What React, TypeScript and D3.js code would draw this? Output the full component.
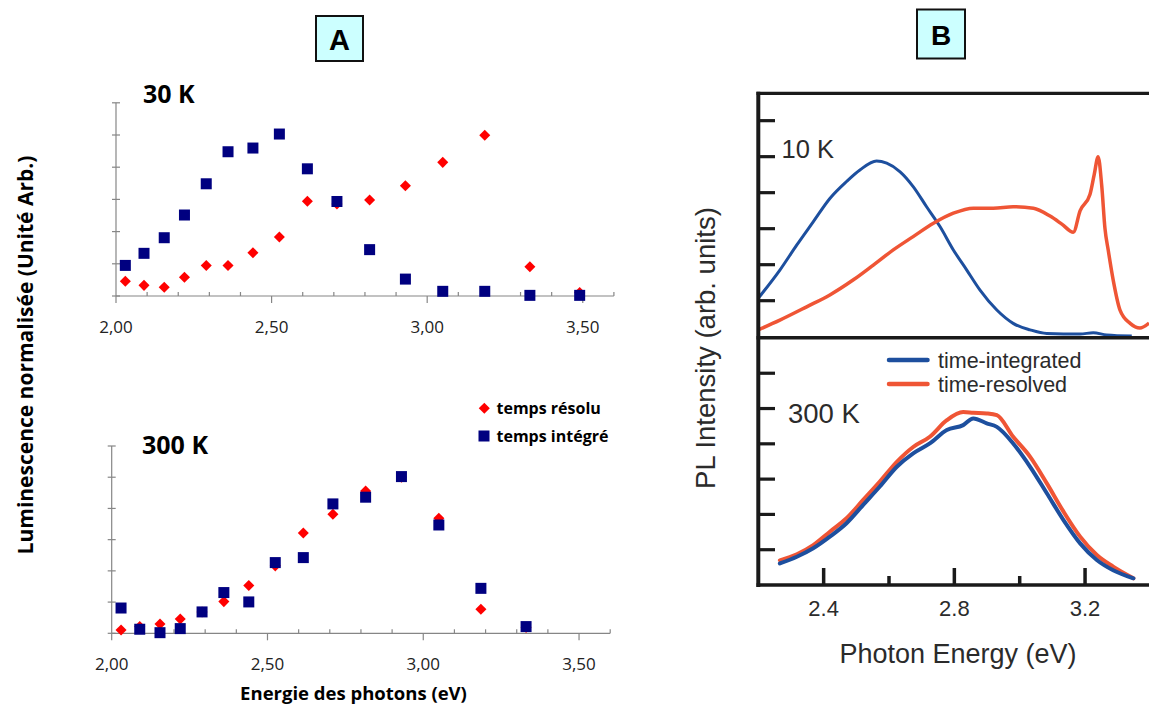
import React from 'react';
import * as d3 from 'd3';

// ---------- Panel A data (normalised luminescence) ----------
const energyA = [2.03, 2.09, 2.155, 2.22, 2.29, 2.36, 2.44, 2.525, 2.615, 2.71, 2.815, 2.93, 3.05, 3.185, 3.33, 3.49];
const k30Resolved = [0.091, 0.066, 0.054, 0.116, 0.19, 0.19, 0.269, 0.366, 0.588, 0.571, 0.596, 0.685, 0.83, 0.999, 0.182, 0.021];
const k30Integrated = [0.19, 0.265, 0.362, 0.503, 0.697, 0.896, 0.919, 1.006, 0.79, 0.587, 0.288, 0.105, 0.029, 0.029, 0.004, 0.004];
const k300Resolved = [0.021, 0.043, 0.06, 0.092, 0.137, 0.203, 0.306, 0.432, 0.643, 0.763, 0.912, 1.0, 0.737, 0.154, 0.038];
const k300Integrated = [0.162, 0.026, 0.004, 0.03, 0.137, 0.261, 0.201, 0.453, 0.485, 0.829, 0.872, 1.004, 0.694, 0.288, 0.043];
const xTicksA = [2.0, 2.5, 3.0, 3.5];
const xMinorA = [2.1, 2.2, 2.3, 2.4, 2.6, 2.7, 2.8, 2.9, 3.1, 3.2, 3.3, 3.4, 3.6];
const yTicksA = [0, 0.2, 0.4, 0.6, 0.8, 1.0, 1.2];

// ---------- Panel B data (PL spectra) ----------
const e10Integrated = [2.2, 2.266, 2.318, 2.368, 2.419, 2.47, 2.511, 2.562, 2.593, 2.634, 2.674, 2.715, 2.756, 2.797, 2.838, 2.878, 2.93, 2.98, 3.032, 3.083, 3.185, 3.225, 3.266, 3.343];
const i10Integrated = [1.07, 1.85, 2.55, 3.19, 3.84, 4.31, 4.63, 4.88, 4.82, 4.58, 4.17, 3.61, 3.06, 2.41, 1.85, 1.3, 0.74, 0.37, 0.19, 0.09, 0.075, 0.11, 0.05, 0.02];
const e10Resolved = [2.2, 2.266, 2.348, 2.419, 2.491, 2.552, 2.613, 2.674, 2.736, 2.797, 2.858, 2.919, 2.98, 3.042, 3.093, 3.13, 3.164, 3.185, 3.215, 3.228, 3.24, 3.251, 3.261, 3.271, 3.286, 3.307, 3.338, 3.368, 3.396];
const i10Resolved = [0.19, 0.46, 0.83, 1.16, 1.58, 1.99, 2.41, 2.78, 3.15, 3.43, 3.57, 3.57, 3.61, 3.57, 3.35, 3.12, 2.9, 3.5, 3.95, 4.5, 5.0, 4.2, 3.0, 2.4, 1.58, 0.74, 0.37, 0.24, 0.38];
const e300 = [2.266, 2.318, 2.368, 2.419, 2.47, 2.521, 2.572, 2.624, 2.674, 2.725, 2.777, 2.827, 2.858, 2.899, 2.93, 2.98, 3.032, 3.083, 3.134, 3.185, 3.236, 3.286, 3.348];
const i300Integrated = [0.61, 0.8, 1.04, 1.37, 1.75, 2.27, 2.79, 3.35, 3.73, 4.01, 4.39, 4.53, 4.72, 4.58, 4.48, 4.01, 3.35, 2.6, 1.84, 1.18, 0.71, 0.42, 0.19];
const i300Resolved = [0.7, 0.87, 1.13, 1.51, 1.89, 2.41, 2.93, 3.49, 3.91, 4.2, 4.67, 4.9, 4.88, 4.86, 4.81, 4.2, 3.63, 2.88, 2.08, 1.37, 0.85, 0.52, 0.19];
const xTicksB = [2.4, 2.8, 3.2];
const xMinorB = [2.6, 3.0];
const yTicksB = [1, 2, 3, 4, 5, 6];

const NAVY = '#000080';
const RED = '#ff0000';
const BLUE_B = '#1d4f9e';
const RED_B = '#ef5535';
const AXIS_A = '#868686';
const DARK = '#2b2b2b';

type PanelProps = { x0: number; x1: number; y0: number; y1: number; title: string; titleX: number; titleY: number; resolved: number[]; integrated: number[] };

function PanelA({ x0, x1, y0, y1, title, titleX, titleY, resolved, integrated }: PanelProps) {
  const x = d3.scaleLinear().domain([2, 3.6]).range([x0, x1]);
  const y = d3.scaleLinear().domain([0, 1.2]).range([y0, y1]);
  const diamond = d3.symbol().type(d3.symbolSquare).size(61)();
  return (
    <g>
      <line x1={x(2)} x2={x(3.6)} y1={y(0)} y2={y(0)} stroke={AXIS_A} strokeWidth={1.2} />
      <line x1={x(2)} x2={x(2)} y1={y(0)} y2={y(1.2)} stroke={AXIS_A} strokeWidth={1.2} />
      {yTicksA.map((t) => (
        <line key={'yt' + t} x1={x(2) - 4} x2={x(2) + 4} y1={y(t)} y2={y(t)} stroke={AXIS_A} strokeWidth={1.2} />
      ))}
      {xTicksA.map((t) => (
        <g key={'xt' + t}>
          <line x1={x(t)} x2={x(t)} y1={y(0)} y2={y(0) + 7} stroke={AXIS_A} strokeWidth={1.2} />
          <text x={x(t)} y={y(0) + 37} textAnchor="middle" fontFamily="'Open Sans'" fontSize={17} fill="#222">
            {t.toFixed(2).replace('.', ',')}
          </text>
        </g>
      ))}
      {xMinorA.map((t) => (
        <line key={'xm' + t} x1={x(t)} x2={x(t)} y1={y(0)} y2={y(0) - 4} stroke={AXIS_A} strokeWidth={1.2} />
      ))}
      {resolved.map((v, i) => (
        <path key={'r' + i} d={diamond} transform={`translate(${x(energyA[i])},${y(v)}) rotate(45)`} fill={RED} />
      ))}
      {integrated.map((v, i) => (
        <rect key={'s' + i} x={x(energyA[i]) - 5.5} y={y(v) - 5.5} width={11} height={11} fill={NAVY} />
      ))}
      <text x={titleX} y={titleY} fontFamily="'Open Sans'" fontWeight="bold" fontSize={25} fill="#000">{title}</text>
    </g>
  );
}

export default function App() {
  const xB = d3.scaleLinear().domain([2.2, 3.4]).range([758.3, 1150.4]);
  const yTop = d3.scaleLinear().domain([0, 6.76]).range([336.7, 93.3]);
  const yBot = d3.scaleLinear().domain([0, 6.97]).range([585, 339]);
  const lineTop = (es: number[], vs: number[]) =>
    d3.line<number>().x((_, i) => xB(es[i])).y((v) => yTop(v)).curve(d3.curveMonotoneX)(vs) || '';
  const lineBot = (es: number[], vs: number[]) =>
    d3.line<number>().x((_, i) => xB(es[i])).y((v) => yBot(v)).curve(d3.curveMonotoneX)(vs) || '';
  const diamondLegend = d3.symbol().type(d3.symbolSquare).size(61)();

  return (
    <svg width={1149} height={708} style={{ position: 'absolute', left: 0, top: 0, background: '#fff' }}>
      <rect x={0} y={0} width={1149} height={708} fill="#fff" />
      {/* Panel labels */}
      <rect x={316} y={16} width={47} height={45} fill="#ccffff" stroke="#111" strokeWidth={2} />
      <text x={339.5} y={50} textAnchor="middle" fontFamily="'Liberation Sans'" fontWeight="bold" fontSize={29} fill="#000">A</text>
      <rect x={917} y={9.5} width={48} height={49} fill="#ccffff" stroke="#111" strokeWidth={2} />
      <text x={941} y={45} textAnchor="middle" fontFamily="'Liberation Sans'" fontWeight="bold" fontSize={28} fill="#000">B</text>

      {/* Panel A */}
      <PanelA x0={116} x1={613.9} y0={296} y1={102.8} title="30 K" titleX={143} titleY={102.5} resolved={k30Resolved} integrated={k30Integrated} />
      <PanelA x0={111.7} x1={610.2} y0={633.3} y1={446} title="300 K" titleX={142} titleY={454} resolved={k300Resolved} integrated={k300Integrated} />
      <text transform="translate(33,355) rotate(-90)" textAnchor="middle" fontFamily="'Open Sans'" fontWeight="bold" fontSize={21} fill="#000">
        Luminescence normalisée (Unité Arb.)
      </text>
      <text x={353.5} y={700} textAnchor="middle" fontFamily="'Open Sans'" fontWeight="bold" fontSize={18.5} fill="#000">
        Energie des photons (eV)
      </text>
      {/* Legend A */}
      <path d={diamondLegend} transform="translate(484.3,408.3) rotate(45)" fill={RED} />
      <text x={496.5} y={414} fontFamily="'Open Sans'" fontWeight="bold" fontSize={16} fill="#000">temps résolu</text>
      <rect x={478.5} y={430.5} width={11} height={11} fill={NAVY} />
      <text x={496.5} y={442} fontFamily="'Open Sans'" fontWeight="bold" fontSize={16} fill="#000">temps intégré</text>

      {/* Panel B curves */}
      <path d={lineTop(e10Integrated, i10Integrated)} fill="none" stroke={BLUE_B} strokeWidth={3} strokeLinejoin="round" />
      <path d={lineTop(e10Resolved, i10Resolved)} fill="none" stroke={RED_B} strokeWidth={3.5} strokeLinejoin="round" />
      <path d={lineBot(e300, i300Resolved)} fill="none" stroke={RED_B} strokeWidth={4} strokeLinejoin="round" strokeLinecap="round" />
      <path d={lineBot(e300, i300Integrated)} fill="none" stroke={BLUE_B} strokeWidth={4} strokeLinejoin="round" strokeLinecap="round" />

      {/* Panel B frame */}
      <line x1={756.5} x2={1152} y1={93.3} y2={93.3} stroke="#1a1a1a" strokeWidth={3.3} />
      <line x1={758.3} x2={758.3} y1={91.7} y2={587} stroke="#1a1a1a" strokeWidth={4} />
      <line x1={756.5} x2={1152} y1={337.8} y2={337.8} stroke="#1a1a1a" strokeWidth={3.5} />
      <line x1={756.5} x2={1152} y1={585} y2={585} stroke="#1a1a1a" strokeWidth={3.5} />
      {yTicksB.map((t) => (
        <g key={'bt' + t}>
          <line x1={758} x2={775} y1={yTop(t)} y2={yTop(t)} stroke="#1a1a1a" strokeWidth={3.2} />
          <line x1={758} x2={775} y1={yBot(t)} y2={yBot(t)} stroke="#1a1a1a" strokeWidth={3.2} />
        </g>
      ))}
      {xTicksB.map((t) => (
        <g key={'bx' + t}>
          <line x1={xB(t)} x2={xB(t)} y1={585} y2={568} stroke="#1a1a1a" strokeWidth={3.5} />
          <text x={xB(t)} y={616} textAnchor="middle" fontFamily="'Liberation Sans'" fontSize={22} fill={DARK}>{t.toFixed(1)}</text>
        </g>
      ))}
      {xMinorB.map((t) => (
        <line key={'bm' + t} x1={xB(t)} x2={xB(t)} y1={585} y2={576} stroke="#1a1a1a" strokeWidth={3.5} />
      ))}
      <text x={781.5} y={158} fontFamily="'Liberation Sans'" fontSize={25.5} fill={DARK}>10 K</text>
      <text x={788} y={422.5} fontFamily="'Liberation Sans'" fontSize={27.5} fill={DARK}>300 K</text>
      {/* Legend B */}
      <line x1={889} x2={927.5} y1={360} y2={360} stroke={BLUE_B} strokeWidth={4.5} strokeLinecap="round" />
      <line x1={889} x2={927.5} y1={384} y2={384} stroke={RED_B} strokeWidth={4.5} strokeLinecap="round" />
      <text x={938} y={367.5} fontFamily="'Liberation Sans'" fontSize={21.5} fill={DARK}>time-integrated</text>
      <text x={938} y={391.5} fontFamily="'Liberation Sans'" fontSize={21.5} fill={DARK}>time-resolved</text>
      <text transform="translate(715,348) rotate(-90)" textAnchor="middle" fontFamily="'Liberation Sans'" fontSize={27.5} fill={DARK}>
        PL Intensity (arb. units)
      </text>
      <text x={958} y={663} textAnchor="middle" fontFamily="'Liberation Sans'" fontSize={27} fill={DARK}>
        Photon Energy (eV)
      </text>
    </svg>
  );
}
